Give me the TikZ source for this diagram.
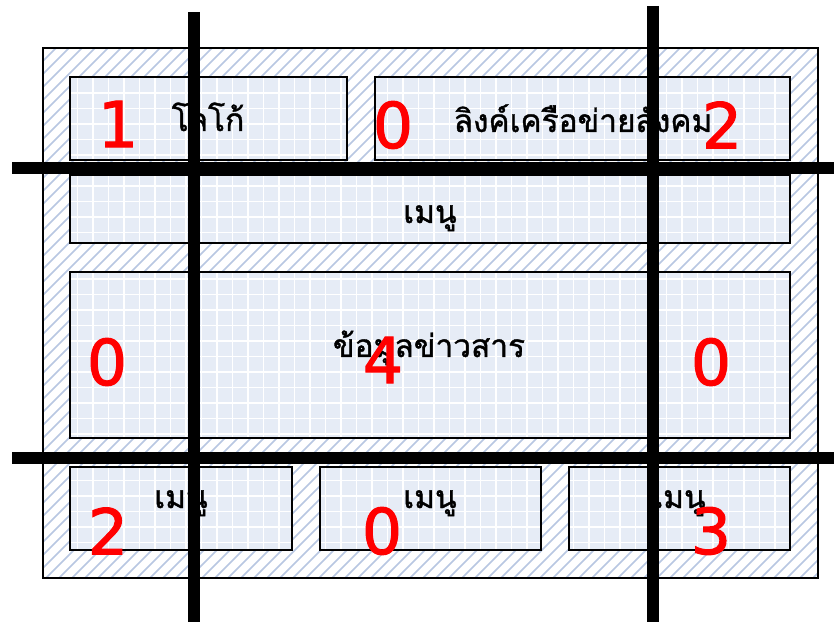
\documentclass[tikz,border=0pt]{standalone}
\usepackage{fontspec}
\newfontfamily\thaifont[Script=Thai, FakeBold=1.2]{Loma}
\newfontfamily\digitfont[FakeBold=1.6]{DejaVu Sans}
\definecolor{hatchblue}{RGB}{184,199,226}
\definecolor{panelblue}{RGB}{230,236,246}
\begin{document}
\begin{tikzpicture}[x=0.03cm, y=-0.03cm,
  panel/.style={draw=black, line width=1pt},
  cut/.style={line width=10.2pt},
  num/.style={text=red, inner sep=0pt, font=\digitfont\fontsize{54}{54}\selectfont},
  thai/.style={inner sep=0pt, anchor=base, font=\thaifont\fontsize{27}{30}\selectfont}]
\useasboundingbox (0,0) rectangle (834,623);
% Page frame with hatching
\fill[white] (43,48) rectangle (818,578);
\begin{scope}
\clip (43,48) rectangle (818,578);
\foreach \x in {-500,-487,...,830}
  \draw[hatchblue, line width=1.4pt] (\x,578) -- +(540,-540);
\end{scope}
\draw[line width=1pt] (43,48) rectangle (818,578);
% Blocks of the page
\foreach \a/\b/\c/\d in {70/77/347/160, 375/77/790/160, 70/175/790/243,
    70/272/790/438, 70/467/292/550, 320/467/541/550, 569/467/790/550} {
  \fill[panelblue] (\a,\b) rectangle (\c,\d);
  \begin{scope}
  \clip (\a,\b) rectangle (\c,\d);
  \draw[white, line width=1.5pt, step=0.465cm] (\a,\d) grid (\c,\b);
  \end{scope}
  \draw[panel] (\a,\b) rectangle (\c,\d);
}
\node[thai] (logo) at (208,131) {โลโก้};
\node[thai] (social) at (583,132) {ลิงค์เครือข่ายสังคม};
\node[thai] (menutop) at (430,223) {เมนู};
\node[thai] (news) at (429,357) {ข้อมูลข่าวสาร};
\node[thai] (menuleft) at (181,508) {เมนู};
\node[thai] (menumid) at (430,508) {เมนู};
\node[thai] (menuright) at (679,508) {เมนู};
% Cutting lines
\draw[cut] (194,12) -- (194,622);
\draw[cut] (653,6) -- (653,622);
\draw[cut] (12,168) -- (834,168);
\draw[cut] (12,458) -- (834,458);
% Counts
\node[num] (ntl) at (118,124) {1};
\node[num] (ntm) at (393,125) {0};
\node[num] (ntr) at (722,125) {2};
\node[num] (nml) at (107,362) {0};
\node[num] (nmm) at (383,360) {4};
\node[num] (nmr) at (711,362) {0};
\node[num] (nbl) at (108,531) {2};
\node[num] (nbm) at (382,531) {0};
\node[num] (nbr) at (711,531) {3};
\end{tikzpicture}
\end{document}
